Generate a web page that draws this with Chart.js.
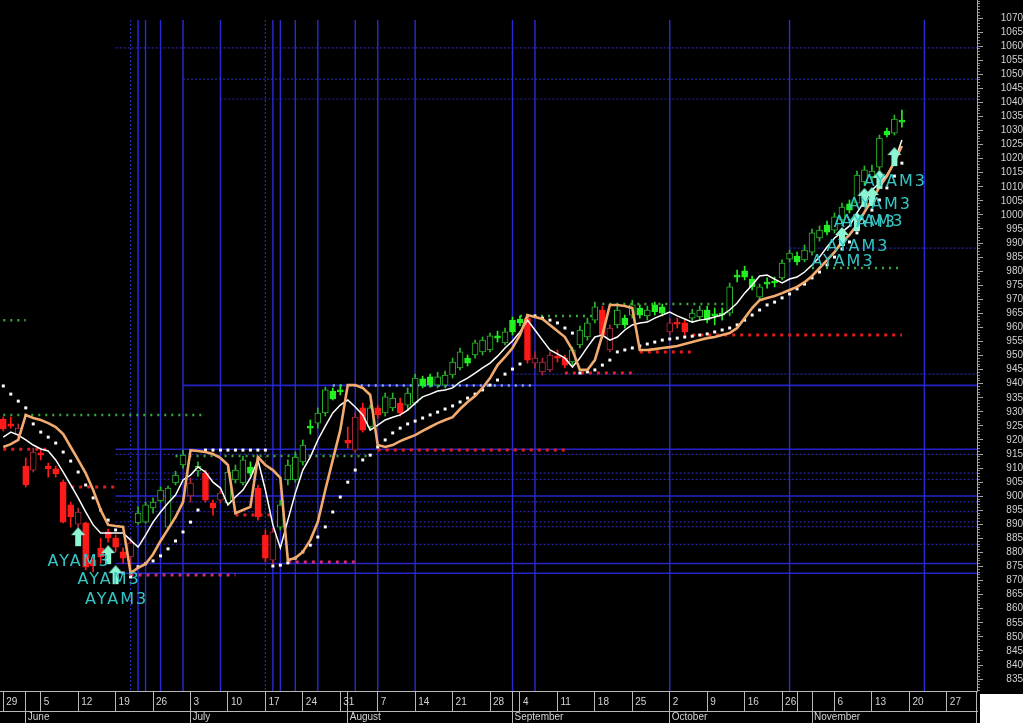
<!DOCTYPE html>
<html lang="en">
<head>
<meta charset="UTF-8">
<title>AYAM3</title>
<script src="https://cdn.jsdelivr.net/npm/chart.js@4"></script>
<style>
  html, body { margin: 0; padding: 0; background: #000; }
  #wrap { width: 1023px; height: 723px; }
</style>
</head>
<body>
<div id="wrap"><canvas id="chart" width="1023" height="723"></canvas></div>
<script>
// x = trading day index, day 0 = Mon 29 May
const weekTicks  = [0, 5, 10, 15, 20, 25, 30, 35, 40, 45, 50, 55, 60, 65, 69, 74, 79, 84, 89, 94, 99, 104, 106, 111, 116, 121, 126];
const weekLabels = ['29','5','12','19','26','3','10','17','24','31','7','14','21','28','4','11','18','25','2','9','16','26','','6','13','20','27'];
const monthTicks  = [3, 25, 46, 68, 89, 108, 130];
const monthLabels = ['June', 'July', 'August', 'September', 'October', 'November', ''];
const yTickLabels = [835, 840, 845, 850, 855, 860, 865, 870, 875, 880, 885, 890, 895, 900, 905, 910, 915, 920, 925, 930,
  935, 940, 945, 950, 955, 960, 965, 970, 975, 980, 985, 990, 995, 1000, 1005, 1010, 1015, 1020, 1025, 1030,
  1035, 1040, 1045, 1050, 1055, 1060, 1065, 1070];

const openP = [927.4, 925.7, 922.1, 910.7, 909.3, 915.4, 910.7, 909.7, 905.0, 896.9,
  890.1, 890.5, 877.3, 881.6, 887.3, 885.1, 880.2, 878.4, 890.5, 890.8,
  895.8, 898.3, 889.0, 904.7, 911.1, 900.1, 909.0, 908.2, 897.6, 898.6,
  897.6, 905.8, 904.7, 910.4, 902.9, 886.2, 877.3, 889.0, 905.8, 905.8,
  912.2, 924.9, 926.0, 929.6, 937.4, 937.8, 920.0, 916.4, 931.4, 924.6,
  931.4, 929.6, 931.4, 933.1, 932.4, 933.1, 941.7, 942.4, 939.5, 939.5,
  943.1, 945.6, 949.1, 950.2, 951.3, 952.0, 957.0, 954.5, 962.6, 963.0,
  963.3, 947.3, 944.2, 944.9, 949.8, 949.1, 947.7, 953.8, 956.6, 962.6,
  966.2, 952.0, 960.9, 963.3, 964.4, 966.9, 964.1, 968.0, 967.3, 958.4,
  961.9, 961.6, 963.3, 963.7, 966.2, 964.8, 965.1, 965.1, 978.6, 980.1,
  977.2, 970.8, 976.1, 976.5, 977.6, 984.3, 985.4, 984.0, 986.8, 991.8,
  996.4, 994.6, 998.2, 1003.9, 1004.2, 1011.7, 1013.5, 1017.0, 1029.8, 1029.1,
  1033.7];
const highP = [928.1, 928.1, 925.7, 913.6, 917.1, 917.1, 911.8, 910.7, 905.8, 897.9,
  895.8, 890.8, 879.1, 885.1, 888.3, 886.2, 881.6, 885.1, 896.2, 897.9,
  899.4, 903.3, 903.6, 908.9, 916.4, 906.5, 912.2, 909.3, 898.6, 902.2,
  910.0, 911.1, 914.3, 912.2, 904.0, 888.0, 888.7, 898.6, 912.9, 915.7,
  920.0, 927.1, 931.4, 938.8, 938.5, 939.5, 924.6, 929.6, 933.1, 932.4,
  932.4, 936.7, 936.7, 934.9, 938.5, 943.4, 942.7, 943.4, 944.1, 944.5,
  949.1, 952.7, 950.2, 955.5, 956.6, 958.0, 958.7, 959.8, 963.7, 964.1,
  964.4, 951.3, 949.1, 951.3, 952.0, 950.2, 953.0, 960.5, 963.3, 969.0,
  967.6, 960.9, 968.0, 964.4, 969.7, 968.0, 967.6, 969.0, 968.3, 963.3,
  963.3, 962.6, 966.5, 967.6, 967.6, 966.9, 966.9, 975.8, 980.4, 981.8,
  978.3, 975.4, 977.6, 977.9, 984.0, 987.5, 986.8, 989.3, 995.0, 996.1,
  997.8, 1000.7, 1004.2, 1005.3, 1015.6, 1017.4, 1017.7, 1028.4, 1030.9, 1035.5,
  1037.3];
const lowP = [923.2, 924.2, 920.7, 903.3, 908.6, 912.9, 906.8, 906.8, 890.5, 889.0,
  889.0, 873.8, 873.1, 876.2, 883.7, 880.2, 876.2, 872.3, 890.1, 890.5,
  894.0, 897.9, 888.7, 904.0, 910.0, 897.9, 907.0, 897.9, 893.3, 897.6,
  896.9, 904.7, 904.0, 907.2, 891.5, 876.6, 875.5, 888.0, 904.0, 905.0,
  911.1, 922.1, 924.2, 928.5, 934.2, 936.0, 917.1, 915.7, 922.8, 923.5,
  927.8, 928.5, 930.3, 928.5, 930.6, 932.4, 938.5, 938.8, 938.5, 938.5,
  942.0, 944.9, 946.3, 949.1, 950.2, 951.3, 954.8, 953.8, 957.3, 960.5,
  947.3, 945.6, 943.1, 944.2, 947.7, 945.6, 946.6, 952.7, 955.5, 961.6,
  956.2, 951.3, 959.8, 959.8, 963.3, 963.3, 962.6, 964.4, 964.1, 957.3,
  959.8, 957.3, 961.9, 962.6, 961.6, 960.9, 962.6, 964.1, 976.2, 976.9,
  973.3, 969.7, 974.0, 974.4, 976.9, 983.3, 982.2, 983.3, 985.7, 990.7,
  992.9, 993.6, 997.1, 1000.7, 1003.2, 1010.6, 1011.7, 1016.0, 1027.7, 1028.4,
  1031.2];
const closeP = [923.9, 924.9, 924.2, 904.0, 915.7, 914.6, 909.7, 907.9, 890.8, 892.6,
  894.4, 874.8, 875.2, 878.4, 885.1, 881.9, 878.0, 883.4, 894.0, 896.9,
  897.9, 902.2, 902.9, 907.5, 914.6, 904.7, 910.6, 898.6, 895.8, 901.1,
  908.6, 909.3, 912.9, 908.2, 892.6, 878.0, 887.3, 896.9, 911.1, 913.9,
  918.2, 924.2, 929.6, 937.8, 934.6, 937.1, 918.9, 928.1, 923.5, 931.4,
  928.9, 935.3, 934.9, 929.6, 936.7, 942.0, 939.2, 939.5, 942.4, 943.1,
  947.7, 951.3, 947.3, 954.5, 955.5, 957.0, 956.2, 958.4, 958.4, 961.6,
  948.4, 949.1, 947.7, 950.2, 949.1, 946.6, 952.0, 959.1, 961.6, 967.3,
  957.3, 959.8, 966.2, 960.9, 968.0, 964.4, 966.2, 965.5, 965.1, 961.6,
  961.2, 958.4, 965.1, 966.2, 962.6, 964.1, 964.4, 974.4, 977.9, 977.9,
  974.4, 974.4, 975.4, 975.8, 982.9, 986.4, 983.3, 987.5, 993.6, 994.6,
  993.9, 999.3, 1002.8, 1001.7, 1014.2, 1016.0, 1015.6, 1027.3, 1028.4, 1034.1,
  1033.0];
// 1 = bullish (green candle), -1 = bearish (red candle)
const trendSignal = [-1, -1, -1, -1, -1, -1, -1, -1, -1, -1,
  -1, -1, -1, -1, -1, -1, -1, -1, 1, 1,
  1, 1, 1, 1, 1, -1, 1, -1, -1, -1,
  1, 1, 1, 1, -1, -1, -1, 1, 1, 1,
  1, 1, 1, 1, 1, 1, -1, -1, -1, 1,
  -1, 1, 1, -1, 1, 1, 1, 1, 1, 1,
  1, 1, 1, 1, 1, 1, 1, 1, 1, 1,
  -1, -1, -1, -1, -1, -1, 1, 1, 1, 1,
  -1, -1, 1, 1, 1, 1, 1, 1, 1, -1,
  -1, -1, 1, 1, 1, 1, 1, 1, 1, 1,
  1, 1, 1, 1, 1, 1, 1, 1, 1, 1,
  1, 1, 1, 1, 1, 1, 1, 1, 1, 1,
  1];
const maLine = [921.0, 922.8, 921.7, 920.0, 918.2, 916.8, 916.1, 912.9, 908.6, 904.0,
  899.4, 894.4, 889.8, 886.9, 886.9, 886.9, 886.9, 884.4, 881.9, 886.2,
  890.8, 894.4, 897.6, 900.4, 905.8, 907.5, 910.4, 908.6, 905.0, 902.9,
  896.9, 899.7, 902.2, 906.5, 912.9, 902.2, 889.8, 881.6, 891.5, 901.1,
  909.3, 913.9, 920.0, 924.9, 929.6, 932.4, 934.2, 931.7, 928.9, 923.5,
  925.3, 927.1, 928.1, 928.9, 930.6, 933.1, 935.3, 936.3, 937.4, 937.8,
  938.5, 940.6, 942.0, 943.8, 945.6, 947.3, 949.8, 952.7, 955.2, 958.4,
  962.6, 959.1, 955.5, 952.0, 950.6, 949.1, 945.9, 949.1, 953.0, 956.6,
  957.3, 955.5, 956.6, 959.1, 960.9, 961.6, 961.9, 963.3, 964.4, 965.5,
  964.1, 963.0, 961.9, 962.6, 963.0, 963.7, 964.4, 966.2, 968.7, 972.2,
  975.1, 978.3, 978.6, 977.2, 975.8, 977.2, 977.9, 979.7, 982.2, 985.0,
  988.6, 991.8, 993.9, 996.1, 1000.7, 1004.9, 1008.9, 1011.3, 1014.2, 1018.8,
  1026.6];
const stopLine = [917.5, 918.5, 920.0, 928.9, 927.8, 927.1, 926.0, 924.6, 922.1, 917.5,
  912.9, 908.2, 902.2, 895.1, 889.8, 889.4, 889.1, 872.7, 874.5, 875.9,
  879.4, 884.1, 888.3, 892.6, 897.9, 916.4, 916.1, 915.7, 915.0, 913.6,
  911.1, 894.0, 895.1, 896.2, 913.9, 911.1, 909.3, 906.5, 877.3, 878.0,
  880.2, 884.4, 890.8, 902.2, 912.9, 923.5, 939.5, 939.5, 938.5, 936.0,
  918.2, 917.5, 918.2, 919.6, 920.7, 921.7, 923.2, 924.6, 926.0, 927.1,
  928.1, 931.0, 933.5, 935.6, 938.5, 942.0, 946.6, 949.5, 952.7, 957.3,
  964.4, 963.7, 963.0, 960.9, 958.7, 956.6, 952.0, 944.9, 944.9, 948.4,
  957.3, 968.0, 968.0, 967.6, 966.9, 952.0, 952.0, 952.3, 952.7, 953.0,
  953.4, 954.1, 954.8, 955.5, 956.2, 956.6, 957.3, 958.0, 959.8, 963.3,
  966.9, 969.7, 970.5, 971.2, 972.2, 973.3, 974.4, 976.1, 978.3, 981.1,
  983.9, 986.8, 990.4, 992.9, 996.4, 1001.0, 1005.3, 1009.9, 1013.8, 1018.8,
  1024.5];
const sarDots = [939.2, 936.3, 933.8, 931.4, 925.7, 922.8, 921.0, 918.9, 915.7, 912.5,
  908.6, 904.0, 899.4, 895.1, 891.5, 888.0, 872.7, 871.3, 874.9, 876.0,
  877.0, 878.8, 881.3, 884.1, 887.3, 890.8, 895.1, 916.4, 916.4, 916.4,
  916.4, 916.4, 916.4, 916.4, 916.4, 916.4, 875.2, 875.5, 876.3, 878.0,
  880.2, 882.6, 885.5, 889.1, 894.4, 899.7, 905.0, 909.3, 912.9, 914.6,
  917.5, 920.0, 922.5, 924.2, 925.7, 926.7, 927.8, 928.9, 929.9, 931.0,
  932.1, 933.5, 934.9, 936.3, 937.8, 939.5, 941.3, 943.4, 945.2, 947.0,
  964.1, 964.1, 963.3, 962.6, 961.6, 959.8, 958.0, 943.8, 944.2, 944.9,
  946.6, 948.4, 951.3, 952.0, 952.7, 953.4, 954.1, 954.8, 955.5, 955.9,
  956.2, 956.6, 956.9, 957.3, 957.7, 958.4, 959.1, 959.8, 960.9, 962.6,
  964.4, 966.2, 968.0, 969.0, 970.5, 971.9, 973.7, 975.4, 977.6, 979.7,
  982.2, 985.0, 987.9, 990.4, 993.6, 997.5, 1001.7, 1005.3, 1009.6, 1013.8,
  1018.4];

// AYAM3 buy signals: day index and arrow tip value
const signalDays = [10, 14, 15, 112, 114, 115, 116, 117, 119];
const signalAt   = [889.0, 882.6, 875.5, 995.7, 1001.0, 1009.6, 1009.9, 1016.0, 1024.1];

// dotted resistance / support levels
const resistLevel = [962.6, 928.9, 914.3, 964.1, 968.3, 981.1];
const resistFrom  = [0, 0, 23, 69, 80, 108];
const resistTo    = [3, 27, 49, 79, 97, 120];
const supportLevel = [916.7, 903.3, 893.3, 916.4, 943.8, 951.3, 957.3];
const supportFrom  = [0, 8, 31, 50, 75, 85, 92];
const supportTo    = [6, 15, 36, 75, 84, 92, 120];
const floorLevel = [872.0, 876.6];
const floorFrom  = [17, 38];
const floorTo    = [31, 47];
const breakLevel = [939.4];
const breakFrom  = [44];
const breakTo    = [71];

// blue cycle / price lines
const vLineDays = [18, 19, 21, 24, 29, 36, 37, 39, 42, 47, 50, 55, 68, 71, 89, 105, 123];
const vDashDays = [17, 35];
const vLineTop = 1069.3;
const hLineLevels = [939.4, 916.7, 900.1, 876.1, 872.6];
const hLineFrom   = [24, 15, 15, 15, 15];
const hDashLevels = [1059.4, 1048.3, 1041.2, 988.2, 943.4, 914.9, 908.2, 906.0, 898.0, 894.5, 890.9, 889.2, 882.9];
const hDashFrom   = [15, 24, 29, 105, 68, 15, 15, 15, 15, 15, 15, 15, 15];

const X_MIN = -0.44, X_MAX = 130.03;
const Y_MIN = 830.76, Y_MAX = 1076.4;

const GREEN_LINE = '#2cb82c', GREEN_FILL = '#22f022', RED_FILL = '#ff1a1a', RED_LINE = '#b02a40';
const isUp = i => closeP[i] >= openP[i];
const strokeOf = i => trendSignal[i] > 0 ? (isUp(i) ? GREEN_LINE : GREEN_FILL) : (isUp(i) ? RED_LINE : RED_FILL);
const fillOf = i => isUp(i) ? '#000' : (trendSignal[i] > 0 ? GREEN_FILL : RED_FILL);

const days = closeP.map((_, i) => i);
const series = arr => arr.map((v, i) => ({x: i, y: v}));

function hSegments(levels, from, to) {
  const pts = [];
  levels.forEach((v, k) => pts.push({x: from[k], y: v}, {x: to[k], y: v}, {x: to[k], y: null}));
  return pts;
}
function vSegments(list) {
  const pts = [];
  list.forEach(d => pts.push({x: d, y: vLineTop}, {x: d, y: Y_MIN}, {x: d, y: null}));
  return pts;
}

function makeArrow() {
  const c = document.createElement('canvas');
  c.width = 16; c.height = 44;
  const g = c.getContext('2d');
  g.fillStyle = '#8cf5d2';
  g.beginPath();
  g.moveTo(8, 22); g.lineTo(15, 30); g.lineTo(11, 30); g.lineTo(11, 41);
  g.lineTo(5, 41); g.lineTo(5, 30); g.lineTo(1, 30);
  g.closePath(); g.fill();
  return c;
}

const dotted = (color, width, dash) => ({
  type: 'line', borderColor: color, borderWidth: width, borderDash: dash,
  pointRadius: 0, fill: false, order: 9
});

const bgPlugin = {
  id: 'bg',
  beforeDraw(chart) {
    const {ctx, width, height} = chart;
    ctx.save(); ctx.fillStyle = '#000'; ctx.fillRect(0, 0, width, height); ctx.restore();
  },
  afterDraw(chart) {
    const {ctx, width, height, chartArea} = chart;
    ctx.save(); ctx.fillStyle = '#fff';
    ctx.fillRect(chartArea.right + 3, chartArea.bottom + 3, width, height);
    ctx.restore();
  }
};

const signalText = {
  id: 'signalText',
  afterDatasetsDraw(chart) {
    const {ctx, scales: {x, y}} = chart;
    ctx.save();
    ctx.font = '16px "DejaVu Sans"';
    ctx.letterSpacing = '2px';
    ctx.fillStyle = '#35c6c4';
    ctx.textAlign = 'center';
    ctx.textBaseline = 'middle';
    signalDays.forEach((d, k) => {
      ctx.fillText('AYAM3', x.getPixelForValue(d) + 1, y.getPixelForValue(signalAt[k]) + 35);
    });
    ctx.restore();
  }
};

const axisFont = {family: '"Liberation Sans", Arial, sans-serif', size: 10};

new Chart(document.getElementById('chart'), {
  type: 'bar',
  data: {
    datasets: [
      {type: 'line', data: vSegments(vLineDays), borderColor: '#2a2ad2', borderWidth: 1.4, pointRadius: 0, order: 10},
      {type: 'line', data: vSegments(vDashDays), borderColor: '#2a2ab0', borderWidth: 1.2, borderDash: [2, 2], pointRadius: 0, order: 10},
      {type: 'line', data: hSegments(hLineLevels, hLineFrom, hLineLevels.map(() => 131)), borderColor: '#2424c8', borderWidth: 1.6, pointRadius: 0, order: 10},
      {type: 'line', data: hSegments(hDashLevels, hDashFrom, hDashLevels.map(() => 131)), borderColor: '#2626a8', borderWidth: 1.2, borderDash: [2, 2], pointRadius: 0, order: 10},
      {...dotted('#3aa83a', 2.5, [2, 5]), data: hSegments(resistLevel, resistFrom, resistTo)},
      {...dotted('#e01e1e', 3, [3, 5]), data: hSegments(supportLevel, supportFrom, supportTo)},
      {...dotted('#d02a7a', 3, [3, 5]), data: hSegments(floorLevel, floorFrom, floorTo)},
      {...dotted('#8fb0e0', 2.5, [2, 5]), data: hSegments(breakLevel, breakFrom, breakTo)},
      {
        type: 'bar', data: days.map(i => ({x: i, y: [lowP[i], highP[i]]})),
        backgroundColor: c => strokeOf(c.dataIndex), borderWidth: 0,
        barThickness: 1, grouped: false, order: 8
      },
      {
        type: 'bar', data: days.map(i => ({x: i, y: [openP[i], closeP[i]]})),
        backgroundColor: c => fillOf(c.dataIndex), borderColor: c => strokeOf(c.dataIndex),
        borderWidth: 1, borderSkipped: false, barThickness: 6, grouped: false, order: 7
      },
      {
        type: 'line', data: series(sarDots), showLine: false, pointStyle: 'rect',
        pointRadius: 2.1, pointBackgroundColor: '#ffffff', pointBorderWidth: 0, order: 6
      },
      {type: 'line', data: series(maLine), borderColor: '#ffffff', borderWidth: 1.5, pointRadius: 0, order: 5},
      {type: 'line', data: series(stopLine), borderColor: '#f2aa6e', borderWidth: 2.6, pointRadius: 0, order: 4},
      {
        type: 'line', data: signalDays.map((d, k) => ({x: d, y: signalAt[k]})), showLine: false,
        pointStyle: makeArrow(), pointRadius: 6, order: 1
      }
    ]
  },
  options: {
    responsive: false,
    animation: false,
    events: [],
    layout: {padding: 0, autoPadding: false},
    plugins: {legend: {display: false}, tooltip: {enabled: false}},
    scales: {
      x: {
        type: 'linear', position: 'bottom', weight: 0, min: X_MIN, max: X_MAX, offset: false,
        afterBuildTicks: s => {
          const all = [...new Set([...weekTicks, ...monthTicks])].sort((a, b) => a - b);
          s.ticks = all.map(v => ({value: v}));
        },
        afterFit: s => { s.height = 20; s.paddingLeft = 0; s.paddingRight = 0; },
        grid: {drawOnChartArea: false, offset: false, tickLength: 20, tickColor: '#b8b8b8'},
        border: {display: true, color: '#b8b8b8'},
        ticks: {
          autoSkip: false, maxRotation: 0, minRotation: 0, align: 'start', labelOffset: 3, padding: -15,
          color: '#d4d4d4', font: axisFont,
          callback: v => { const k = weekTicks.indexOf(v); return k >= 0 ? weekLabels[k] : ''; }
        }
      },
      xm: {
        type: 'linear', position: 'bottom', weight: 1, min: X_MIN, max: X_MAX, offset: false,
        afterBuildTicks: s => { s.ticks = monthTicks.map(v => ({value: v})); },
        afterFit: s => { s.height = 12; s.paddingLeft = 0; s.paddingRight = 0; },
        grid: {drawOnChartArea: false, offset: false, tickLength: 12, tickColor: '#b8b8b8'},
        border: {display: true, color: '#b8b8b8'},
        ticks: {
          autoSkip: false, maxRotation: 0, minRotation: 0, align: 'start', labelOffset: 2, padding: -12,
          color: '#d4d4d4', font: axisFont,
          callback: v => { const k = monthTicks.indexOf(v); return k >= 0 ? monthLabels[k] : ''; }
        }
      },
      y: {
        position: 'right', weight: 1, min: Y_MIN, max: Y_MAX,
        afterBuildTicks: s => { s.ticks = yTickLabels.map(v => ({value: v})); },
        afterFit: s => { s.width = 46; s.paddingTop = 0; s.paddingBottom = 0; },
        grid: {drawOnChartArea: false, tickLength: 6, tickColor: '#a8a8a8'},
        border: {display: true, color: '#a8a8a8'},
        ticks: {
          autoSkip: false, crossAlign: 'far', padding: 13, color: '#d0d0d0', font: axisFont,
          callback: v => String(v)
        }
      },
      yRuler: {
        position: 'right', weight: 0, min: Y_MIN, max: Y_MAX,
        afterBuildTicks: s => {
          const t = [];
          for (let v = 831; v <= 1076; v++) t.push({value: v});
          s.ticks = t;
        },
        afterFit: s => { s.width = 0; s.paddingTop = 0; s.paddingBottom = 0; },
        grid: {drawOnChartArea: false, tickLength: 3, tickColor: '#8c8c8c'},
        border: {display: false},
        ticks: {display: false}
      }
    }
  },
  plugins: [bgPlugin, signalText]
});
</script>
</body>
</html>
